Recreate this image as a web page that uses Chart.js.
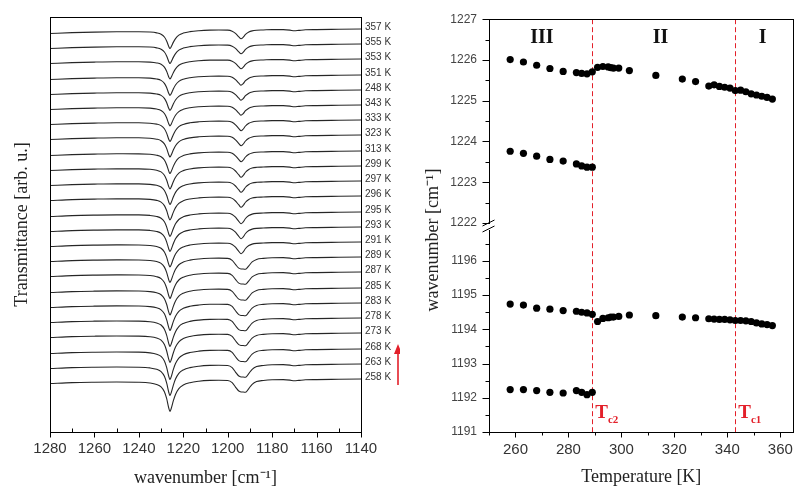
<!DOCTYPE html>
<html>
<head>
<meta charset="utf-8">
<script src="https://cdn.jsdelivr.net/npm/chart.js@4/dist/chart.umd.min.js"></script>
<style>
  html, body { margin: 0; padding: 0; background: #fff; }
  #wrap { position: relative; width: 802px; height: 490px; }
  #left { position: absolute; left: 0; top: 0; }
  #right { position: absolute; left: 400px; top: 0; }
</style>
</head>
<body>
<div id="wrap">
  <canvas id="left" width="400" height="490"></canvas>
  <canvas id="right" width="402" height="490"></canvas>
</div>
<script>
// ---- left panel: stacked spectra ----
const specLabels = ["357 K", "355 K", "353 K", "351 K", "248 K", "343 K", "333 K", "323 K", "313 K", "299 K",
  "297 K", "296 K", "295 K", "293 K", "291 K", "289 K", "287 K", "285 K", "283 K", "278 K",
  "273 K", "268 K", "263 K", "258 K"];
const specTemps = [357, 355, 353, 351, 348, 343, 333, 323, 313, 299, 297, 296, 295, 293, 291, 289, 287, 285, 283, 278, 273, 268, 263, 258];
// vertical offset of each trace (arb. u.)
const specOffsets = [403, 388, 373, 357, 342, 327, 312, 297, 281, 266, 251, 236, 220, 205, 190, 175, 160, 144, 129, 114, 99, 83, 68, 53];
const band1Depth = [18, 18, 18.5, 19, 19, 19.5, 20, 20.5, 21, 21.5, 22, 22.5, 23, 23, 23.5, 24, 25, 25.5, 26, 27, 28, 29, 30, 31];
const band2Depth = [9, 9, 9, 9.5, 9.5, 9.5, 10, 10, 10, 10.5, 10.5, 10.5, 11, 11, 11, 11.5, 11.5, 11.5, 12, 12, 12, 12, 12.5, 12.5];

const wn = [1280, 1270, 1260, 1250, 1240, 1235, 1232, 1230, 1228.5, 1227.5, 1226.5, 1226, 1225.5, 1224.5, 1223.5, 1222,
  1220, 1217, 1213, 1208, 1204, 1200, 1198, 1196.5, 1195, 1194, 1193, 1192, 1190.5, 1189, 1187, 1184,
  1180, 1175, 1172, 1170, 1168, 1165, 1160, 1150, 1140];
const baseDrop = [4.5, 3.6, 2.9, 2.4, 2.0, 1.8, 1.7, 1.6, 1.5, 1.5, 1.5, 1.5, 1.5, 1.5, 1.5, 1.5,
  1.4, 1.2, 1.0, 0.8, 0.8, 0.8, 0.8, 0.8, 0.8, 0.8, 0.8, 0.8, 0.8, 0.8, 0.8, 0.8,
  0.6, 0.6, 1.1, 1.8, 1.4, 0.8, 0.6, 0.3, 0];
const band1 = [0, 0, 0.01, 0.02, 0.04, 0.07, 0.12, 0.2, 0.36, 0.58, 0.9, 1, 0.92, 0.66, 0.45, 0.26,
  0.15, 0.08, 0.04, 0.02, 0.01, 0, 0, 0, 0, 0, 0, 0, 0, 0, 0, 0,
  0, 0, 0, 0, 0, 0, 0, 0, 0];
const band2Narrow = [0, 0, 0, 0, 0, 0, 0, 0, 0, 0, 0, 0, 0, 0, 0, 0,
  0, 0, 0, 0, 0.01, 0.04, 0.15, 0.4, 0.78, 1, 0.82, 0.52, 0.25, 0.12, 0.05, 0.02,
  0, 0, 0, 0, 0, 0, 0, 0, 0];
const band2Broad = [0, 0, 0, 0, 0, 0, 0, 0, 0, 0, 0, 0, 0, 0, 0, 0,
  0, 0, 0, 0, 0.01, 0.05, 0.22, 0.58, 0.9, 0.97, 0.98, 1, 0.7, 0.36, 0.14, 0.05,
  0.01, 0, 0, 0, 0, 0, 0, 0, 0];

// ---- right panel: band positions vs temperature ----
const tAll = [258, 263, 268, 273, 278, 283, 285, 287, 289, 291, 293, 295, 296, 297, 299, 303, 313, 323, 328,
  333, 335, 337, 339, 341, 343, 345, 347, 349, 351, 353, 355, 357];
const nuUpperA = [1226.01, 1225.95, 1225.87, 1225.79, 1225.72, 1225.69, 1225.67, 1225.66, 1225.71,
  1225.82, 1225.84, 1225.83, 1225.81, 1225.80, 1225.80, 1225.74, 1225.62, 1225.53, 1225.47,
  1225.36, 1225.39, 1225.35, 1225.33, 1225.31, 1225.25, 1225.26, 1225.22, 1225.17, 1225.14, 1225.11, 1225.08, 1225.04];
const nuLowerA = [1194.74, 1194.71, 1194.62, 1194.59, 1194.55, 1194.53, 1194.50, 1194.48, 1194.44,
  1194.23, 1194.32, 1194.34, 1194.36, 1194.36, 1194.38, 1194.42, 1194.40, 1194.36, 1194.34,
  1194.31, 1194.30, 1194.29, 1194.29, 1194.28, 1194.26, 1194.26, 1194.25, 1194.23, 1194.19, 1194.16, 1194.14, 1194.11];
const tPhase3 = [258, 263, 268, 273, 278, 283, 285, 287, 289];
const nuUpperB = [1223.76, 1223.71, 1223.64, 1223.56, 1223.52, 1223.45, 1223.40, 1223.37, 1223.37];
const nuLowerB = [1192.24, 1192.24, 1192.21, 1192.16, 1192.14, 1192.21, 1192.16, 1192.09, 1192.16];
const tcTemps = [289, 343];
const tcNames = ["c2", "c1"];
const phaseNames = ["III", "II", "I"];

const SANS = '"Liberation Sans", Arial, sans-serif';
const SERIF = '"Liberation Serif", "Times New Roman", serif';
const RED = '#e3202a';

// build the spectra datasets
const specDatasets = specOffsets.map((off, i) => {
  const b2 = specTemps[i] <= 289 ? band2Broad : band2Narrow;
  return {
    label: specLabels[i],
    data: wn.map((w, j) => ({ x: w, y: off - baseDrop[j] - band1Depth[i] * band1[j] - band2Depth[i] * b2[j] })),
    borderColor: '#262626',
    borderWidth: 1.1,
    pointRadius: 0,
    cubicInterpolationMode: 'monotone',
    fill: false
  };
});

const leftDeco = {
  id: 'leftDeco',
  afterDraw(chart) {
    const { ctx, chartArea: a, scales } = chart;
    const x = scales.x, y = scales.y;
    ctx.save();
    ctx.strokeStyle = '#000';
    ctx.lineWidth = 1;
    ctx.strokeRect(Math.round(a.left) + 0.5, Math.round(a.top) + 0.5, Math.round(a.right - a.left), Math.round(a.bottom - a.top));
    // major ticks outside, minor inside
    const yb = Math.round(a.bottom) + 0.5;
    x.ticks.forEach(t => {
      const px = Math.round(x.getPixelForValue(t.value)) + 0.5;
      ctx.beginPath();
      ctx.moveTo(px, yb);
      ctx.lineTo(px, t.value % 20 === 0 ? yb + 5 : yb - 4);
      ctx.stroke();
    });
    // temperature labels at the right end of each trace
    ctx.font = '10px ' + SANS;
    ctx.fillStyle = '#333';
    ctx.textAlign = 'left';
    ctx.textBaseline = 'middle';
    specLabels.forEach((lab, i) => {
      ctx.fillText(lab, a.right + 4, y.getPixelForValue(specOffsets[i]) - 1.5);
    });
    // red arrow (direction of heating)
    ctx.strokeStyle = RED;
    ctx.fillStyle = RED;
    ctx.lineWidth = 1.6;
    ctx.beginPath();
    ctx.moveTo(398, 385);
    ctx.lineTo(398, 352);
    ctx.stroke();
    ctx.beginPath();
    ctx.moveTo(398, 344);
    ctx.lineTo(394, 354);
    ctx.lineTo(402, 354);
    ctx.closePath();
    ctx.fill();
    ctx.restore();
  }
};

new Chart(document.getElementById('left'), {
  type: 'line',
  data: { datasets: specDatasets },
  options: {
    responsive: false,
    animation: false,
    devicePixelRatio: 1,
    events: [],
    layout: { padding: { left: 0, right: 39, top: 17, bottom: 0 } },
    plugins: { legend: { display: false }, tooltip: { enabled: false } },
    scales: {
      x: {
        type: 'linear', reverse: true, min: 1140, max: 1280,
        ticks: {
          stepSize: 10, autoSkip: false, maxRotation: 0, includeBounds: false, padding: 8,
          color: '#333', font: { family: SANS, size: 15 },
          callback: v => (v % 20 === 0 ? v : '')
        },
        grid: { display: false, drawTicks: false },
        border: { display: true, color: '#000', width: 1 },
        title: {
          display: true, text: 'wavenumber [cm\u207B\u00B9]', color: '#222',
          font: { family: SERIF, size: 18 }, padding: { top: 0, bottom: 1 }
        },
        afterFit(s) { s.height = 58; }
      },
      y: {
        type: 'linear', min: 0, max: 415,
        ticks: { display: false },
        grid: { display: false, drawTicks: false },
        border: { display: true, color: '#000', width: 1 },
        title: {
          display: true, text: 'Transmittance [arb. u.]', color: '#222',
          font: { family: SERIF, size: 18 }, padding: { top: 11, bottom: 0 }
        },
        afterFit(s) { s.width = 50; }
      }
    }
  },
  plugins: [leftDeco]
});

// ---- right chart ----
const pts = (xs, ys) => xs.map((t, i) => ({ x: t, y: ys[i] }));
const dot = { backgroundColor: '#000', borderColor: '#000', pointRadius: 3.6, pointBorderWidth: 0, showLine: false };

const rightDeco = {
  id: 'rightDeco',
  beforeDatasetsDraw(chart) {
    const { ctx, chartArea: a, scales } = chart;
    ctx.save();
    ctx.strokeStyle = RED;
    ctx.lineWidth = 1;
    ctx.setLineDash([5, 3]);
    tcTemps.forEach(tc => {
      const px = Math.round(scales.x.getPixelForValue(tc)) + 0.5;
      ctx.beginPath();
      ctx.moveTo(px, a.top);
      ctx.lineTo(px, a.bottom);
      ctx.stroke();
    });
    ctx.restore();
  },
  afterDraw(chart) {
    const { ctx, chartArea: a, scales } = chart;
    const x = scales.x;
    ctx.save();
    ctx.strokeStyle = '#000';
    ctx.lineWidth = 1;
    const L = Math.round(a.left) + 0.5, B = Math.round(a.bottom) + 0.5;
    ctx.strokeRect(L, Math.round(a.top) + 0.5, Math.round(a.right - a.left) - 1, Math.round(a.bottom - a.top));
    // x ticks
    x.ticks.forEach(t => {
      const px = Math.round(x.getPixelForValue(t.value)) + 0.5;
      ctx.beginPath();
      ctx.moveTo(px, B);
      ctx.lineTo(px, B + (t.value % 20 === 0 ? 5 : 3));
      ctx.stroke();
    });
    // y ticks on both stacked axes
    ['yTop', 'yBot'].forEach(id => {
      const s = scales[id];
      s.ticks.forEach(t => {
        const py = Math.round(s.getPixelForValue(t.value)) + 0.5;
        ctx.beginPath();
        ctx.moveTo(L, py);
        ctx.lineTo(L - (Number.isInteger(t.value) ? 7 : 4), py);
        ctx.stroke();
      });
    });
    // axis break
    const b = Math.round(scales.yTop.bottom);
    ctx.fillStyle = '#fff';
    ctx.fillRect(L - 3, b - 3, 6, 6);
    ctx.beginPath();
    ctx.moveTo(L - 7, b - 1); ctx.lineTo(L + 5, b - 7);
    ctx.moveTo(L - 7, b + 5); ctx.lineTo(L + 5, b - 1);
    ctx.stroke();
    // phase labels
    ctx.fillStyle = '#111';
    ctx.font = 'bold 20px ' + SERIF;
    ctx.textAlign = 'center';
    ctx.textBaseline = 'middle';
    [270, 314.8, 353.3].forEach((t, i) => ctx.fillText(phaseNames[i], x.getPixelForValue(t), 38));
    // Tc labels
    ctx.fillStyle = RED;
    ctx.textAlign = 'left';
    ctx.textBaseline = 'alphabetic';
    tcTemps.forEach((tc, i) => {
      const px = x.getPixelForValue(tc) + 3;
      ctx.font = 'bold 19px ' + SERIF;
      ctx.fillText('T', px, a.bottom - 14);
      const w = ctx.measureText('T').width;
      ctx.font = 'bold 11px ' + SERIF;
      ctx.fillText(tcNames[i], px + w, a.bottom - 9);
    });
    // y axis title spanning both parts
    ctx.fillStyle = '#222';
    ctx.font = '18px ' + SERIF;
    ctx.textAlign = 'center';
    ctx.textBaseline = 'middle';
    ctx.translate(33, 240);
    ctx.rotate(-Math.PI / 2);
    ctx.fillText('wavenumber [cm\u207B\u00B9]', 0, 0);
    ctx.restore();
  }
};

const yTickFont = { family: SANS, size: 12 };
new Chart(document.getElementById('right'), {
  type: 'scatter',
  data: {
    datasets: [
      Object.assign({ data: pts(tAll, nuUpperA), yAxisID: 'yTop' }, dot),
      Object.assign({ data: pts(tPhase3, nuUpperB), yAxisID: 'yTop' }, dot),
      Object.assign({ data: pts(tAll, nuLowerA), yAxisID: 'yBot' }, dot),
      Object.assign({ data: pts(tPhase3, nuLowerB), yAxisID: 'yBot' }, dot)
    ]
  },
  options: {
    responsive: false,
    animation: false,
    devicePixelRatio: 1,
    events: [],
    layout: { padding: { left: 0, right: 2, top: 17, bottom: 0 } },
    plugins: { legend: { display: false }, tooltip: { enabled: false } },
    scales: {
      x: {
        type: 'linear', min: 250, max: 365,
        ticks: {
          stepSize: 10, autoSkip: false, maxRotation: 0, includeBounds: false, padding: 9,
          color: '#333', font: { family: SANS, size: 15 },
          callback: v => (v % 20 === 0 ? v : '')
        },
        grid: { display: false, drawTicks: false },
        border: { display: true, color: '#000', width: 1 },
        title: {
          display: true, text: 'Temperature [K]', color: '#222',
          font: { family: SERIF, size: 18 }, padding: { top: 0, bottom: 2 }
        },
        afterFit(s) { s.height = 58; }
      },
      // stacked left axes: the one listed last is placed on top
      yBot: {
        type: 'linear', position: 'left', stack: 'wave', stackWeight: 206,
        min: 1191, max: 1196.99,
        ticks: {
          stepSize: 0.5, autoSkip: false, includeBounds: false, padding: 12,
          color: '#444', font: yTickFont,
          callback: v => (Number.isInteger(v) ? v : '')
        },
        grid: { display: false, drawTicks: false },
        border: { display: true, color: '#000', width: 1 },
        afterFit(s) { s.width = 89; }
      },
      yTop: {
        type: 'linear', position: 'left', stack: 'wave', stackWeight: 209,
        min: 1221.9, max: 1227,
        ticks: {
          stepSize: 0.5, autoSkip: false, includeBounds: false, padding: 12,
          color: '#444', font: yTickFont,
          callback: v => (Number.isInteger(v) ? v : '')
        },
        grid: { display: false, drawTicks: false },
        border: { display: true, color: '#000', width: 1 },
        afterFit(s) { s.width = 89; }
      }
    }
  },
  plugins: [rightDeco]
});
</script>
</body>
</html>
